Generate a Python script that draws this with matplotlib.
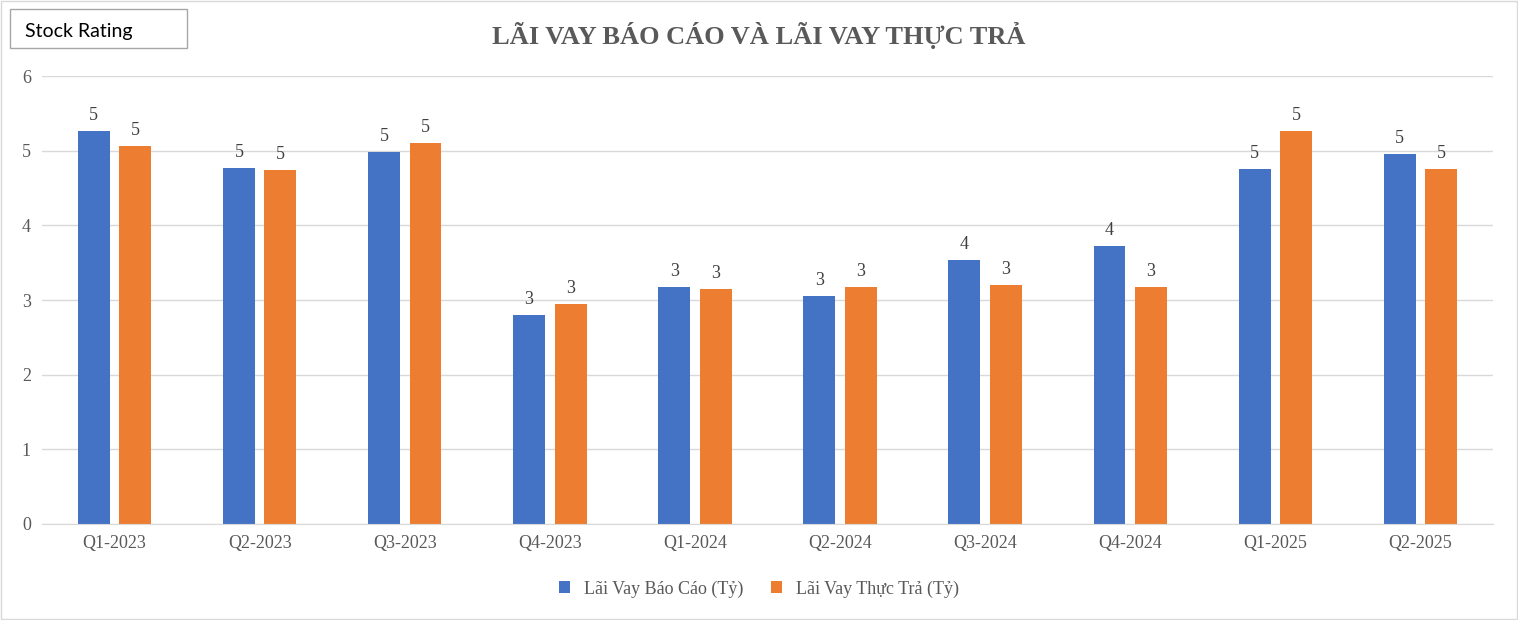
import matplotlib
matplotlib.use("Agg")
import matplotlib.pyplot as plt
import numpy as np

categories = ["Q1-2023","Q2-2023","Q3-2023","Q4-2023","Q1-2024","Q2-2024","Q3-2024","Q4-2024","Q1-2025","Q2-2025"]
bao_cao = [5.26,4.77,4.98,2.80,3.17,3.05,3.54,3.72,4.75,4.96]
thuc_tra = [5.06,4.74,5.10,2.95,3.15,3.17,3.20,3.17,5.26,4.75]
yticks = [0,1,2,3,4,5,6]

plt.rcParams["font.family"] = "Liberation Serif"
fig = plt.figure(figsize=(15.18,6.2), dpi=100)
ax = fig.add_axes([42/1518, 1-524/620, 1451/1518, 448/620])
x = np.arange(len(categories))
w = 0.22; off = 0.143
b1 = ax.bar(x-off, bao_cao, w, color="#4472C4", label="Lãi Vay Báo Cáo (Tỷ)")
b2 = ax.bar(x+off, thuc_tra, w, color="#ED7D31", label="Lãi Vay Thực Trả (Tỷ)")
for bars in (b1, b2):
    ax.bar_label(bars, labels=[f"{v:.0f}" for v in bars.datavalues], padding=5, fontsize=13, color="#404040")
ax.set_xlim(-0.5, len(categories)-0.5)
ax.set_ylim(0, 6)
ax.set_yticks(yticks)
ax.set_xticks(x)
ax.set_xticklabels(categories)
ax.tick_params(axis="both", length=0, labelsize=13, labelcolor="#595959", pad=8)
ax.grid(axis="y", color="#D9D9D9", lw=1)
ax.set_axisbelow(True)
for s in ["top","right","left"]:
    ax.spines[s].set_visible(False)
ax.spines["bottom"].set_color("#D9D9D9")
fig.text(0.5, 1-35/620, "LÃI VAY BÁO CÁO VÀ LÃI VAY THỰC TRẢ", ha="center", va="center",
         fontsize=19, fontweight="bold", color="#595959")
fig.text(25/1518, 1-31/620, "Stock Rating", ha="left", va="center", fontsize=14, color="black",
         family="Lato")
fig.add_artist(plt.Rectangle((10/1518, 1-48/620), 177/1518, 39/620, transform=fig.transFigure,
                             fill=False, ec="#A6A6A6", lw=1))
fig.add_artist(plt.Rectangle((1/1518, 1/620), 1516/1518, 618/620, transform=fig.transFigure,
                             fill=False, ec="#D9D9D9", lw=1))
fig.legend(handles=[b1, b2], loc="center", bbox_to_anchor=(0.5, 1-589/620), ncol=2, frameon=False,
           fontsize=13, handlelength=0.6, handleheight=0.6, columnspacing=1.5,
           labelcolor="#595959")
fig.savefig("out.png", dpi=100)
